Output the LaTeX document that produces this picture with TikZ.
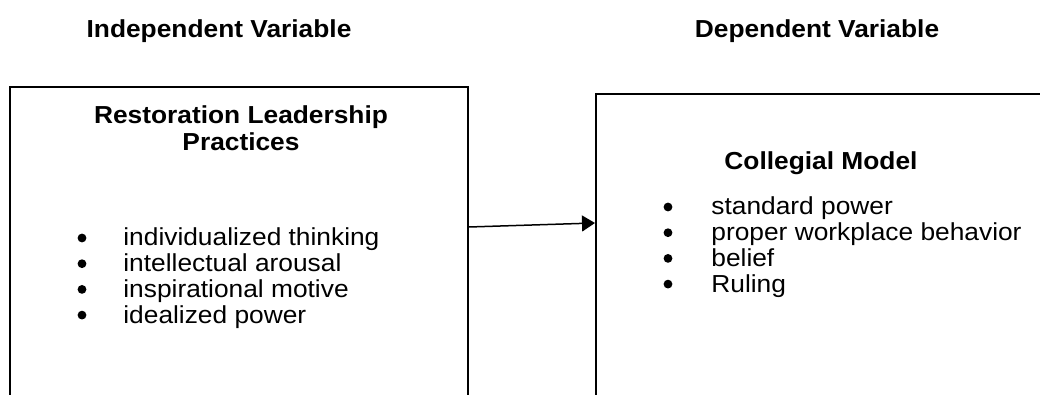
\documentclass[tikz,border=0pt]{standalone}
\usepackage{fontspec}
\setmainfont{Liberation Sans}[FakeStretch=1.07]
\usepackage{tikz}
\usetikzlibrary{calc,arrows.meta,positioning}
\definecolor{frameBlack}{RGB}{0,0,0}
\tikzset{
  heading/.style={font=\bfseries\fontsize{12.3}{14}\selectfont, inner sep=0pt},
  boxtitle/.style={heading, align=center},
  panel/.style={draw=frameBlack, line width=1pt, anchor=north west, minimum height=180pt},
  item/.style={font=\fontsize{12.3}{14}\selectfont, inner sep=0pt, anchor=base west,
    text height=9pt, text depth=2.5pt},
  dot/.style={fill=frameBlack},
  flow/.style={frameBlack, line width=0.75pt, -{Triangle[length=6.5pt,width=8pt]}}
}

\begin{document}
\begin{tikzpicture}[x=0.5pt,y=-0.5pt]
\path[use as bounding box, clip] (0,0) rectangle (1040,395);

% headings
\node[heading, anchor=base] (indep) at (219,38) {Independent Variable};
\node[heading, anchor=base] (dep) at (817,38) {Dependent Variable};

% the two boxes, open at the bottom
\node[panel, minimum width=229pt] (ivbox) at (9,86) {};
\node[panel, minimum width=240pt] (dvbox) at (595,93) {};

\node[boxtitle, anchor=north] (rlp) at (241,105) {Restoration Leadership\\[-0.5pt]Practices};
\node[heading, anchor=base] (colm) at (821,170) {Collegial Model};

% bullet lists
\foreach \txt [count=\i] in {individualized thinking, intellectual arousal, inspirational motive, idealized power}{
  \node[item] (iv\i) at (123,{246+25.7*(\i-1)}) {\txt};
  \fill[dot] ($(iv\i.base west)+(-41,-8)$) circle (2.2pt);
}
\foreach \txt [count=\i] in {standard power, proper workplace behavior, belief, Ruling}{
  \node[item] (dv\i) at (711,{215+25.7*(\i-1)}) {\txt};
  \fill[dot] ($(dv\i.base west)+(-43,-8)$) circle (2.2pt);
}

\draw[flow] ($(ivbox.north east)+(0,141)$) -- ($(dvbox.north west)+(0,130)$);
\end{tikzpicture}
\end{document}
